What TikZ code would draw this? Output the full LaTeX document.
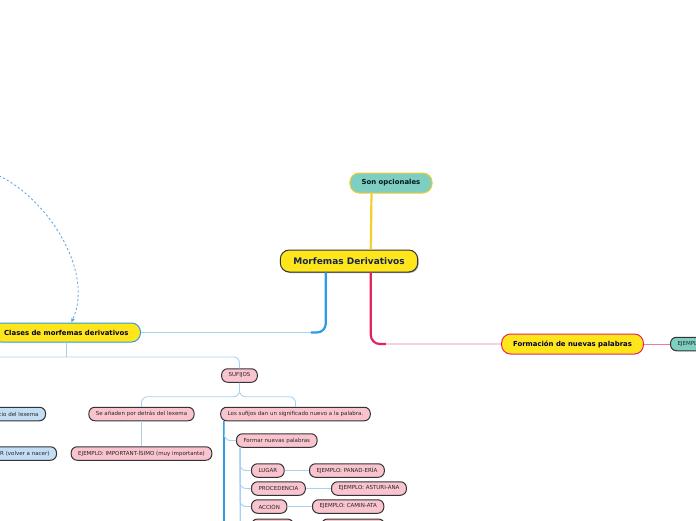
\documentclass[tikz,border=0pt]{standalone}
\usepackage{fontspec}
\setmainfont{DejaVu Sans}
\usetikzlibrary{arrows.meta,shadows,calc}
\definecolor{yel}{HTML}{FFE61B}
\definecolor{tealf}{HTML}{7ECEC1}
\definecolor{pinkf}{HTML}{F9C4CE}
\definecolor{bluef}{HTML}{C3DEF4}
\definecolor{dkblue}{HTML}{2A9DE4}
\definecolor{lblue}{HTML}{A6D2F0}
\definecolor{redl}{HTML}{E3245F}
\definecolor{pinkl}{HTML}{F27AA2}
\definecolor{sonb}{HTML}{F0CF2E}
\definecolor{dashc}{HTML}{5B9FE6}
\definecolor{nodeb}{HTML}{333333}
\definecolor{navy}{HTML}{14264F}
\tikzset{
  base/.style={rounded corners=6pt, draw=nodeb, line width=1pt, inner ysep=0pt,
    minimum height=13.5pt, inner xsep=7pt, text=black!85,
    font=\fontsize{5.5}{6}\selectfont},
  pinkbox/.style={base, fill=pinkf},
  bluebox/.style={base, fill=bluef},
  tealbox/.style={base, fill=tealf},
  mainbox/.style={rounded corners=9pt, fill=yel, draw=nodeb, line width=1pt,
    inner ysep=0pt, minimum height=22pt, inner xsep=13pt, text=navy,
    font=\fontsize{9}{10}\selectfont\bfseries,
    drop shadow={shadow xshift=1pt, shadow yshift=-1pt, fill=black, opacity=0.35}},
  sonbox/.style={rounded corners=9pt, fill=tealf, draw=sonb, line width=1pt,
    inner ysep=0pt, minimum height=20pt, inner xsep=11.7pt, text=black!80!teal,
    font=\fontsize{6.9}{8}\selectfont\bfseries},
  clasesbox/.style={rounded corners=9pt, fill=yel, draw=dkblue, line width=1pt,
    inner ysep=0pt, minimum height=19pt, inner xsep=12pt, text=black!85!blue,
    font=\fontsize{6.9}{8}\selectfont\bfseries},
  formbox/.style={rounded corners=9pt, fill=yel, draw=redl, line width=1pt,
    inner ysep=0pt, minimum height=20pt, inner xsep=11.5pt, text=black!80!blue,
    font=\fontsize{6.9}{8}\selectfont\bfseries},
  yline/.style={draw=sonb, line width=2.2pt},
  dkline/.style={draw=dkblue, line width=2.2pt},
  lbline/.style={draw=lblue, line width=0.9pt},
  redline/.style={draw=redl, line width=2.2pt},
  pinkline/.style={draw=pinkl, line width=0.9pt},
  dashline/.style={draw=dashc, line width=0.8pt, dash pattern=on 2.2pt off 2.2pt,
    -{Latex[length=4pt,width=4pt]}},
}
\begin{document}
\begin{tikzpicture}[x=1pt,y=-1pt]
\useasboundingbox (0,0) rectangle (696,520);
\clip (0,0) rectangle (696,520);

% nodes
\node[mainbox] (morf) at (349,261) {Morfemas Derivativos};
\node[sonbox] (son) at (391,183) {Son opcionales};
\node[clasesbox, anchor=east] (clases) at (141,332.5) {Clases de morfemas derivativos};
\node[formbox] (form) at (572.5,344) {Formación de nuevas palabras};
\node[tealbox, anchor=west] (ejf) at (670,344) {EJEMPLO:};
\node[pinkbox] (suf) at (239.5,375.5) {SUFIJOS};
\node[pinkbox] (se) at (141.5,414) {Se añaden por detrás del lexema};
\node[pinkbox] (los) at (295.5,414) {Los sufijos dan un significado nuevo a la palabra.};
\node[bluebox, anchor=east] (pre) at (46,414) {Se añaden al inicio del lexema};
\node[pinkbox] (imp) at (141.5,453.5) {EJEMPLO: IMPORTANT-ÍSIMO (muy importante)};
\node[bluebox, anchor=east] (ren) at (57,453.5) {EJEMPLO: RE-NACER (volver a nacer)};
\node[pinkbox, anchor=west] (formar) at (236,440.5) {Formar nuevas palabras};
\node[pinkbox, anchor=west] (lugar) at (251,470.5) {LUGAR};
\node[pinkbox, anchor=west] (panad) at (309,470.5) {EJEMPLO: PANAD-ERÍA};
\node[pinkbox, anchor=west] (proc) at (251,488.5) {PROCEDENCIA};
\node[pinkbox, anchor=west] (astur) at (331,488.5) {EJEMPLO: ASTURI-ANA};
\node[pinkbox, anchor=west] (acc) at (251,506.5) {ACCIÓN};
\node[pinkbox, anchor=west] (camin) at (312,506.5) {EJEMPLO: CAMIN-ATA};
\node[pinkbox, anchor=north west, minimum width=42pt] (n4) at (251,518.5) {};
\node[pinkbox, anchor=north west, minimum width=63pt] (e4) at (321,518.5) {};

% main connectors
\draw[yline] ([xshift=22pt]son.south west) -- ([xshift=91pt]morf.north west);
\draw[lbline, rounded corners=9pt] ([xshift=46pt]morf.south west) |- (clases.east);
\draw[dkline, rounded corners=9pt] ([xshift=46pt]morf.south west) |- ($(morf.south west |- clases.east)+(31,0)$);
\draw[pinkline, rounded corners=9pt] ([xshift=91pt]morf.south west) |- (form.west);
\draw[redline, rounded corners=9pt] ([xshift=91pt]morf.south west) |- ($(morf.south west |- form.west)+(106,0)$);
\draw[pinkline] (form.east) -- (ejf.west);

% dashed relation
\coordinate (ds) at (-5,174);
\draw[dashline] (ds) .. controls (45,195) and (95,270) .. ([xshift=5pt]clases.north);

% clases subtree
\coordinate (hl) at (-5,357);
\draw[lbline] (clases.south) -- (clases.south |- hl);
\draw[lbline, rounded corners=6pt] (hl) -| (suf.north);
\draw[lbline, rounded corners=6pt] (se.north) -- ++(0,-10) -| (suf.south);
\draw[lbline, rounded corners=6pt] (los.north) -- ++(0,-10) -| (suf.south);
\draw[lbline] (se.south) -- (imp.north);
\draw[dkline, line width=1.8pt] ([xshift=4pt]los.south west) -- ++(0,110);
\draw[lbline, rounded corners=6pt] ([xshift=4pt]los.south west) |- (formar.west);
\draw[lbline] ([xshift=4pt]formar.south west) -- ++(0,90);
\foreach \n in {lugar,proc,acc,n4}
  \draw[lbline, rounded corners=6pt] ([xshift=4pt]formar.south west) |- (\n.west);
\draw[lbline] (lugar.east) -- (panad.west);
\draw[lbline] (proc.east) -- (astur.west);
\draw[lbline] (acc.east) -- (camin.west);
\draw[lbline] (n4.east) -- (e4.west);
\end{tikzpicture}
\end{document}
